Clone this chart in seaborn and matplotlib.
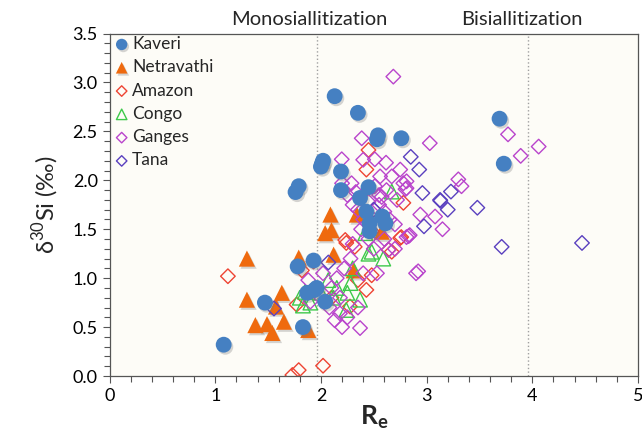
import matplotlib
matplotlib.use("Agg")
import matplotlib.pyplot as plt
import matplotlib.patheffects as pe
from matplotlib.ticker import MultipleLocator, FormatStrFormatter
import pandas as pd
import seaborn as sns

# ---- data (Re, delta30Si) ----
kaveri_x = [1.08, 1.47, 1.76, 1.79, 1.78, 1.93, 1.83, 1.87, 1.96, 2.04, 2.13, 2.35, 2.54, 2.53,
            2.76, 2.00, 2.02, 2.01, 2.19, 2.19, 2.45, 2.37, 2.43, 2.58, 2.61, 2.46, 2.46, 3.69,
            3.73, 1.94]
kaveri_y = [0.32, 0.75, 1.88, 1.94, 1.12, 1.18, 0.50, 0.85, 0.90, 0.76, 2.86, 2.69, 2.46, 2.42,
            2.43, 2.14, 2.20, 2.17, 2.09, 1.90, 1.93, 1.82, 1.68, 1.63, 1.56, 1.56, 1.48, 2.63,
            2.17, 0.88]

netra_x = [1.30, 1.79, 1.30, 1.63, 1.38, 1.49, 1.54, 1.575, 1.65, 1.88, 2.09, 2.10, 2.04, 2.12,
           2.34, 2.575, 2.31]
netra_y = [1.20, 1.21, 0.78, 0.85, 0.52, 0.53, 0.44, 0.71, 0.555, 0.47, 1.65, 1.49, 1.46, 1.24,
           1.65, 1.475, 1.08]

amazon_x = [1.12, 1.82, 1.93, 1.73, 1.79, 2.02, 1.77, 2.45, 2.43, 2.78, 2.75, 2.64, 2.23, 2.32,
            2.48, 2.67, 2.43, 2.275, 2.24, 2.76, 2.35, 2.10, 2.48]
amazon_y = [1.02, 1.08, 1.17, 0.01, 0.06, 0.105, 0.73, 2.31, 2.11, 1.77, 1.41, 1.29, 1.39, 1.32,
            1.03, 1.27, 0.88, 0.71, 1.36, 1.42, 0.98, 0.80, 1.48]

congo_x = [2.67, 2.42, 2.45, 2.59, 2.48, 2.37, 2.07, 2.24, 1.80, 1.85, 1.90, 1.83, 2.00, 2.15,
           2.25, 2.30, 2.12, 2.28]
congo_y = [1.885, 1.46, 1.25, 1.20, 1.27, 0.78, 0.98, 0.675, 0.80, 0.86, 0.75, 0.72, 0.85, 0.90,
           0.85, 1.10, 0.80, 0.95]

ganges_x = [2.685, 2.386, 3.03, 2.197, 2.40, 2.51, 2.616, 2.75, 2.56, 2.67, 2.29, 2.51, 2.78, 2.80,
            2.575, 2.94, 3.08, 3.77, 3.89, 4.06, 3.30, 3.33, 2.81, 2.81, 3.15, 2.83, 2.92, 2.84,
            2.37, 2.90, 2.64, 2.81, 2.53, 2.13, 2.20, 2.18, 2.02, 1.88, 1.90, 2.20, 2.25, 2.30,
            2.35, 2.40, 2.45, 2.50, 2.55, 2.60, 2.65, 2.70, 2.72, 2.62, 2.48, 2.38, 2.30, 2.28,
            2.22, 2.15, 2.10, 2.25, 2.35, 2.40, 2.50, 2.60, 2.70, 2.33, 2.55, 2.18, 2.45, 2.08]
ganges_y = [3.06, 2.43, 2.38, 2.215, 2.21, 2.215, 2.18, 2.11, 2.04, 2.04, 1.97, 1.94, 1.97, 1.91,
            1.83, 1.65, 1.63, 2.47, 2.25, 2.345, 2.01, 1.94, 1.99, 1.92, 1.50, 1.43, 1.07, 1.44,
            0.49, 1.05, 1.29, 1.42, 1.05, 0.57, 0.50, 0.64, 1.05, 0.98, 0.76, 1.97, 1.85, 1.75,
            1.70, 1.60, 1.78, 1.70, 1.75, 1.68, 1.60, 1.55, 1.80, 1.90, 1.62, 1.50, 1.35, 1.20,
            1.10, 1.00, 0.90, 0.60, 0.70, 1.05, 1.30, 1.40, 1.30, 1.88, 1.85, 0.80, 1.40, 0.70]

tana_x = [2.85, 2.93, 2.96, 3.127, 3.13, 3.23, 3.20, 3.48, 2.975, 3.71, 4.47, 1.556, 2.07, 2.50]
tana_y = [2.24, 2.11, 1.87, 1.80, 1.79, 1.885, 1.70, 1.72, 1.53, 1.32, 1.36, 0.69, 1.16, 1.70]

rivers = ["Kaveri", "Netravathi", "Amazon", "Congo", "Ganges", "Tana"]
xs = [kaveri_x, netra_x, amazon_x, congo_x, ganges_x, tana_x]
ys = [kaveri_y, netra_y, amazon_y, congo_y, ganges_y, tana_y]
colors = ["#4580C2", "#EF6A0E", "#EE4433", "#3DC94A", "#B944CC", "#5A40BF"]
markers = ["o", "^", "D", "^", "D", "D"]
filled = [True, True, False, False, False, False]
sizes = [130, 135, 55, 110, 55, 55]

boundary_x = [1.96, 3.96]
zone_labels = ["Monosiallitization", "Bisiallitization"]
zone_label_x = [1.89, 3.90]

sns.set_theme(style="ticks")
plt.rcParams["font.family"] = ["Lato", "DejaVu Sans"]
plt.rcParams["mathtext.fontset"] = "custom"
plt.rcParams["mathtext.rm"] = "Lato"
plt.rcParams["mathtext.bf"] = "Lato:bold"

fig = plt.figure(figsize=(6.42, 4.36), dpi=100)
ax = fig.add_axes([0.1706, 0.1376, 0.8232, 0.7854])
ax.set_facecolor("#FDFCF7")

for bx in boundary_x:
    ax.axvline(bx, color="#A0A0A0", linestyle=":", linewidth=1.0, zorder=0)

shadow = [pe.SimplePatchShadow(offset=(1.2, -1.5), shadow_rgbFace="#777777", alpha=0.3),
          pe.Normal()]
for name, x, y, c, m, f, s in zip(rivers, xs, ys, colors, markers, filled, sizes):
    df = pd.DataFrame({"Re": x, "d30Si": y})
    if f:
        coll_before = len(ax.collections)
        sns.scatterplot(data=df, x="Re", y="d30Si", ax=ax, marker=m, s=s, color=c,
                        edgecolor="none", linewidth=0, label=name, zorder=3 if m == "o" else 2)
        for coll in ax.collections[coll_before:]:
            coll.set_path_effects(shadow)
    else:
        sns.scatterplot(data=df, x="Re", y="d30Si", ax=ax, marker=m, s=s,
                        facecolor="none", edgecolor=c, linewidth=1.0, label=name, zorder=2)

ax.set_xlim(0, 5)
ax.set_ylim(0, 3.5)
ax.xaxis.set_major_locator(MultipleLocator(1))
ax.xaxis.set_minor_locator(MultipleLocator(0.2))
ax.yaxis.set_major_locator(MultipleLocator(0.5))
ax.yaxis.set_minor_locator(MultipleLocator(0.1))
ax.yaxis.set_major_formatter(FormatStrFormatter("%.1f"))
ax.tick_params(which="major", direction="out", length=5, width=0.8, colors="#555555",
               labelsize=13, labelcolor="black")
ax.tick_params(which="minor", direction="out", length=4, width=0.8, colors="#555555")
for sp in ax.spines.values():
    sp.set_color("#555555")
    sp.set_linewidth(0.9)

ax.set_xlabel(r"$\mathbf{R_e}$", fontsize=19, labelpad=0)
ax.set_ylabel(r"δ$^{30}$Si (‰)", fontsize=17, labelpad=8)

for lx, lt in zip(zone_label_x, zone_labels):
    ax.text(lx, 1.015, lt, transform=ax.get_xaxis_transform(), ha="center", va="bottom",
            fontsize=14.5)

handles, labels = ax.get_legend_handles_labels()
leg = ax.legend(handles, labels, loc="upper left", bbox_to_anchor=(0.0, 1.003),
                frameon=False, fontsize=12.5, handletextpad=0.1, borderaxespad=0.0,
                labelspacing=0.42, markerscale=0.72, borderpad=0.2, handlelength=1.0)

fig.savefig("out.png", dpi=100)
